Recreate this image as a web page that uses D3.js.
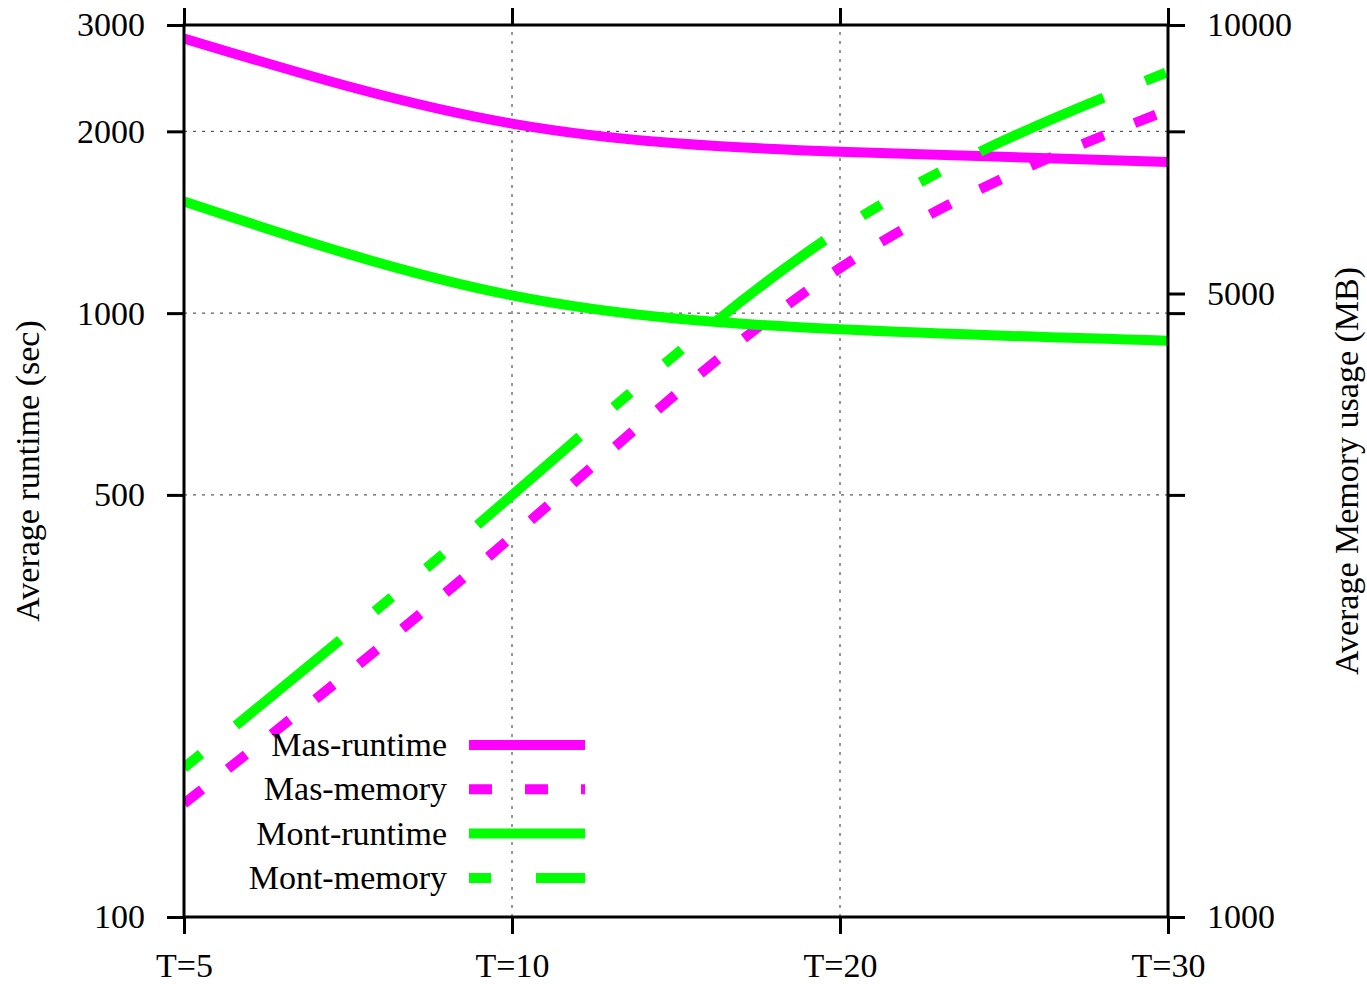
<!DOCTYPE html>
<html>
<head>
<meta charset="utf-8">
<script src="https://cdn.jsdelivr.net/npm/d3@7"></script>
<style>
    body { margin: 0; background: #fff; }
    text { font-family: 'Liberation Serif', 'Times New Roman', serif; fill: #000; }
</style>
</head>
<body>
<svg class="svg-graphic"></svg>
<script>
// data
var categories = ['T=5', 'T=10', 'T=20', 'T=30'];
var masRuntime = [2850, 2060, 1850, 1780];
var montRuntime = [1530, 1070, 940, 900];
var masMemory = [1340, 2670, 5340, 8030];
var montMemory = [1470, 2970, 5890, 8860];

var leftTicks = [100, 500, 1000, 2000, 3000];
var rightTicks = [1000, 5000, 10000];
var gridTicks = [500, 1000, 2000];

var width = 1367, height = 984;
var margin = { top: 25, left: 184, bottom: 67, right: 199 };
var x0 = margin.left, x1 = width - margin.right;
var y0 = height - margin.bottom, y1 = margin.top;
var fontSize = 34;
var lineWidth = 10;

var svg = d3.select('.svg-graphic')
    .attr('width', width)
    .attr('height', height);

var x = d3.scalePoint().domain(categories).range([x0, x1]);
var yLeft = d3.scaleLog().domain([100, 3000]).range([y0, y1]);
var yRight = d3.scaleLog().domain([1000, 10000]).range([y0, y1]);

// grid lines (dotted)
var grid = svg.append('g').attr('class', 'grid');
grid.selectAll('.hgrid')
    .data(gridTicks)
    .enter().append('line')
        .attr('x1', x0).attr('x2', x1)
        .attr('y1', function(d) { return yLeft(d); })
        .attr('y2', function(d) { return yLeft(d); })
        .attr('stroke', '#333')
        .attr('stroke-width', 1)
        .attr('stroke-dasharray', '3,6');
grid.selectAll('.vgrid')
    .data(categories.slice(1, 3))
    .enter().append('line')
        .attr('x1', function(d) { return x(d); })
        .attr('x2', function(d) { return x(d); })
        .attr('y1', y0).attr('y2', y1)
        .attr('stroke', '#333')
        .attr('stroke-width', 1)
        .attr('stroke-dasharray', '3,6');

// clip so the curves stop at the border
svg.append('defs').append('clipPath')
    .attr('id', 'plot-clip')
    .append('rect')
        .attr('x', x0).attr('y', y1)
        .attr('width', x1 - x0).attr('height', y0 - y1);

var series = [
    { name: 'Mas-runtime', values: masRuntime, scale: yLeft, color: '#ff00ff', dash: null },
    { name: 'Mas-memory', values: masMemory, scale: yRight, color: '#ff00ff', dash: '23,33' },
    { name: 'Mont-runtime', values: montRuntime, scale: yLeft, color: '#00ff00', dash: null },
    // short, long, short repeating
    { name: 'Mont-memory', values: montMemory, scale: yRight, color: '#00ff00', dash: '22,45,135,45,22,45' }
];

var plot = svg.append('g').attr('clip-path', 'url(#plot-clip)');

series.forEach(function(s) {
    var line = d3.line()
        .x(function(d, i) { return x(categories[i]); })
        .y(function(d) { return s.scale(d); })
        .curve(d3.curveNatural);

    plot.append('path')
        .datum(s.values)
        .attr('d', line)
        .attr('fill', 'none')
        .attr('stroke', s.color)
        .attr('stroke-width', lineWidth)
        .attr('stroke-dasharray', s.dash);
});

// axes - ticks pointing out like gnuplot "set tics out"
var tickLen = 17;

var leftAxis = svg.append('g')
    .attr('transform', 'translate(' + x0 + ',0)')
    .call(d3.axisLeft(yLeft).tickValues(leftTicks).tickFormat(d3.format('d')).tickSize(tickLen).tickPadding(22));

var rightAxis = svg.append('g')
    .attr('transform', 'translate(' + x1 + ',0)')
    .call(d3.axisRight(yRight).tickValues(rightTicks).tickFormat(d3.format('d')).tickSize(tickLen).tickPadding(22));

// y1 ticks mirrored on the right side
var rightMirror = svg.append('g')
    .attr('transform', 'translate(' + x1 + ',0)')
    .call(d3.axisRight(yLeft).tickValues(gridTicks).tickFormat('').tickSize(tickLen));

var bottomAxis = svg.append('g')
    .attr('transform', 'translate(0,' + y0 + ')')
    .call(d3.axisBottom(x).tickSize(tickLen).tickPadding(22));

var topAxis = svg.append('g')
    .attr('transform', 'translate(0,' + y1 + ')')
    .call(d3.axisTop(x).tickFormat('').tickSize(tickLen));

[leftAxis, rightAxis, rightMirror, bottomAxis, topAxis].forEach(function(a) {
    a.select('.domain').remove();
    a.selectAll('.tick line').attr('stroke', '#000').attr('stroke-width', 3);
    a.selectAll('.tick text')
        .style('font-family', "'Liberation Serif', 'Times New Roman', serif")
        .style('font-size', fontSize + 'px')
        .attr('fill', '#000');
});
bottomAxis.selectAll('.tick text').attr('y', 60).attr('dy', null);

// border box
svg.append('rect')
    .attr('x', x0).attr('y', y1)
    .attr('width', x1 - x0).attr('height', y0 - y1)
    .attr('fill', 'none')
    .attr('stroke', '#000')
    .attr('stroke-width', 3);

// axis titles
svg.append('text')
    .attr('transform', 'translate(39,' + ((y0 + y1) / 2) + ') rotate(-90)')
    .attr('text-anchor', 'middle')
    .style('font-size', fontSize + 'px')
    .text('Average runtime (sec)');

svg.append('text')
    .attr('transform', 'translate(1358,' + ((y0 + y1) / 2) + ') rotate(-90)')
    .attr('text-anchor', 'middle')
    .style('font-size', fontSize + 'px')
    .text('Average Memory usage (MB)');

// legend, bottom left inside the plot
var legend = svg.append('g').attr('class', 'legend');
var legendTop = 745, legendStep = 44.3;

series.forEach(function(s, i) {
    var ly = legendTop + i * legendStep;
    legend.append('text')
        .attr('x', 447)
        .attr('y', ly + 11)
        .attr('text-anchor', 'end')
        .style('font-size', fontSize + 'px')
        .text(s.name);
    legend.append('line')
        .attr('x1', 469).attr('x2', 585)
        .attr('y1', ly).attr('y2', ly)
        .attr('stroke', s.color)
        .attr('stroke-width', lineWidth)
        .attr('stroke-dasharray', s.dash);
});
</script>
</body>
</html>
